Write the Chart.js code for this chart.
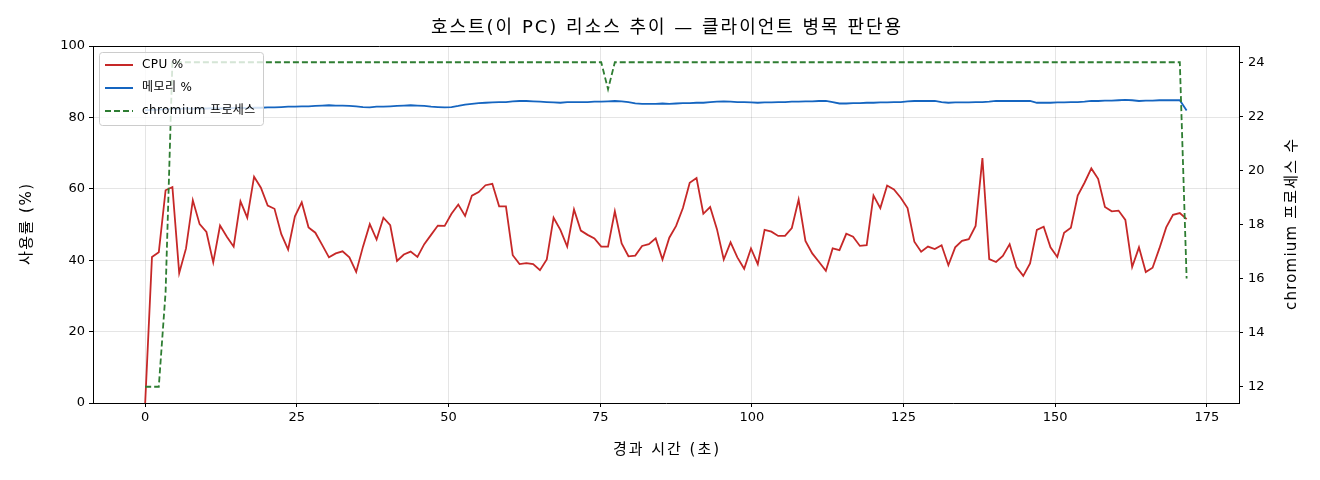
<!DOCTYPE html>
<html>
<head>
<meta charset="utf-8">
<script src="https://cdn.jsdelivr.net/npm/chart.js@4.4.1/dist/chart.umd.min.js"></script>
<style>
    html, body { margin: 0; padding: 0; background: #fff; }
    #wrap { width: 1320px; height: 480px; }
</style>
</head>
<body>
<div id="wrap"><canvas id="hostChart" width="1320" height="480"></canvas></div>
<script>

// =========================
// DATA
// =========================

// one sample roughly every 1.12 s
const sampleSec = 1.122;

const cpuPct = [
    0, 40.9, 42.2, 59.6, 60.5, 36.4, 43.3, 56.8, 50.1, 47.9,
    39.4, 49.7, 46.6, 43.8, 56.5, 51.9, 63.4, 60.3, 55.3, 54.4,
    47.3, 43.0, 52.3, 56.2, 49.2, 47.7, 44.3, 40.8, 41.9, 42.5,
    40.8, 36.7, 43.8, 50.1, 45.8, 51.9, 49.8, 39.8, 41.6, 42.4,
    40.9, 44.5, 47.1, 49.7, 49.6, 53.0, 55.6, 52.4, 58.1, 59.1,
    61.0, 61.4, 55.1, 55.1, 41.4, 38.9, 39.2, 38.9, 37.2, 40.2,
    51.9, 48.5, 43.8, 54.2, 48.3, 47.1, 46.1, 43.8, 43.8, 53.7,
    44.7, 41.1, 41.3, 44.0, 44.5, 46.1, 40.2, 46.3, 49.6, 54.6,
    61.7, 63.0, 53.0, 54.9, 48.7, 40.2, 45.0, 40.8, 37.6, 43.3,
    38.9, 48.5, 48.0, 46.8, 46.8, 49.0, 57.0, 45.4, 41.9, 39.5,
    37.0, 43.3, 42.8, 47.4, 46.6, 44.0, 44.2, 58.1, 54.6, 60.9,
    59.8, 57.5, 54.6, 45.2, 42.4, 43.8, 43.1, 44.2, 38.6, 43.6,
    45.4, 45.9, 49.6, 68.6, 40.3, 39.5, 41.2, 44.5, 38.1, 35.6,
    39.1, 48.5, 49.4, 43.6, 40.9, 47.7, 49.1, 58.1, 61.7, 65.7,
    62.8, 54.9, 53.7, 53.9, 51.3, 38.1, 43.6, 36.7, 37.9, 43.3,
    49.2, 52.7, 53.2, 51.5
];

const memPct = [
    82.0, 82.1, 82.2, 82.3, 82.4, 82.4, 82.5, 82.4, 82.5, 82.5,
    82.6, 82.5, 82.6, 82.6, 82.7, 82.6, 82.7, 82.7, 82.8, 82.8,
    82.9, 83.0, 83.0, 83.1, 83.1, 83.2, 83.3, 83.4, 83.3, 83.3,
    83.2, 83.1, 82.9, 82.8, 83.0, 83.0, 83.1, 83.2, 83.3, 83.4,
    83.3, 83.2, 83.0, 82.9, 82.8, 82.9, 83.2, 83.6, 83.8, 84.0,
    84.1, 84.2, 84.3, 84.3, 84.5, 84.6, 84.6, 84.5, 84.4, 84.3,
    84.2, 84.1, 84.3, 84.3, 84.3, 84.3, 84.4, 84.4, 84.5, 84.6,
    84.5, 84.3, 83.9, 83.8, 83.8, 83.8, 83.9, 83.8, 83.9, 84.0,
    84.0, 84.1, 84.1, 84.3, 84.4, 84.5, 84.4, 84.3, 84.3, 84.2,
    84.1, 84.2, 84.2, 84.3, 84.3, 84.4, 84.4, 84.5, 84.5, 84.6,
    84.6, 84.3, 83.9, 83.9, 84.0, 84.0, 84.1, 84.1, 84.2, 84.2,
    84.3, 84.3, 84.5, 84.6, 84.6, 84.6, 84.6, 84.3, 84.1, 84.2,
    84.2, 84.2, 84.3, 84.3, 84.4, 84.6, 84.6, 84.6, 84.6, 84.6,
    84.6, 84.1, 84.1, 84.1, 84.2, 84.2, 84.3, 84.3, 84.4, 84.6,
    84.6, 84.7, 84.7, 84.8, 84.9, 84.8, 84.6, 84.7, 84.7, 84.8,
    84.8, 84.8, 84.8, 81.9
];

const chromiumProcs = [
    12, 12, 12, 15.5, 24, 24, 24, 24, 24, 24,
    24, 24, 24, 24, 24, 24, 24, 24, 24, 24,
    24, 24, 24, 24, 24, 24, 24, 24, 24, 24,
    24, 24, 24, 24, 24, 24, 24, 24, 24, 24,
    24, 24, 24, 24, 24, 24, 24, 24, 24, 24,
    24, 24, 24, 24, 24, 24, 24, 24, 24, 24,
    24, 24, 24, 24, 24, 24, 24, 24, 23, 24,
    24, 24, 24, 24, 24, 24, 24, 24, 24, 24,
    24, 24, 24, 24, 24, 24, 24, 24, 24, 24,
    24, 24, 24, 24, 24, 24, 24, 24, 24, 24,
    24, 24, 24, 24, 24, 24, 24, 24, 24, 24,
    24, 24, 24, 24, 24, 24, 24, 24, 24, 24,
    24, 24, 24, 24, 24, 24, 24, 24, 24, 24,
    24, 24, 24, 24, 24, 24, 24, 24, 24, 24,
    24, 24, 24, 24, 24, 24, 24, 24, 24, 24,
    24, 24, 24, 16
];

const elapsed = cpuPct.map((_, i) => i * sampleSec);

const xTicks = [0, 25, 50, 75, 100, 125, 150, 175];
const yTicks = [0, 20, 40, 60, 80, 100];
const y2Ticks = [12, 14, 16, 18, 20, 22, 24];

const seriesLabels = ["CPU %", "메모리 %", "chromium 프로세스"];

const chartTitle = "호스트(이 PC) 리소스 추이 — 클라이언트 병목 판단용";
const xTitle = "경과 시간 (초)";
const yTitle = "사용률 (%)";
const y2Title = "chromium 프로세스 수";

// =========================
// HELPERS
// =========================

const FONT = "'DejaVu Sans', 'Noto Sans CJK KR', sans-serif";
const GRID = "rgba(0,0,0,0.1)";

const toPoints = (vals) => vals.map((v, i) => ({ x: elapsed[i], y: v }));

const fixTicks = (list) => (scale) => {
    scale.ticks = list.map(v => ({ value: v }));
};

// text with a little extra tracking, centred on (x, y)
function spacedText(ctx, text, x, y, size, spacing, rot) {
    ctx.save();
    ctx.font = size + "px " + FONT;
    ctx.letterSpacing = spacing + "px";
    ctx.textAlign = "center";
    ctx.textBaseline = "middle";
    ctx.fillStyle = "#000";
    ctx.translate(x, y);
    if (rot) ctx.rotate(rot);
    ctx.fillText(text, spacing / 2, 0);
    ctx.restore();
}

// matplotlib style title, legend box, axis titles and top spine
const mplExtras = {
    id: "mplExtras",
    afterDraw(chart) {
        const ctx = chart.ctx;
        const a = chart.chartArea;
        const midX = (a.left + a.right) / 2;
        const midY = (a.top + a.bottom) / 2;

        ctx.save();

        // top spine
        ctx.strokeStyle = "#000";
        ctx.lineWidth = 1;
        ctx.beginPath();
        ctx.moveTo(a.left, a.top + 0.5);
        ctx.lineTo(a.right, a.top + 0.5);
        ctx.stroke();

        // titles
        spacedText(ctx, chartTitle, midX, 28, 18, 2, 0);
        spacedText(ctx, xTitle, midX, 450, 15, 2, 0);
        spacedText(ctx, yTitle, 27, midY, 15, 1.5, -Math.PI / 2);
        spacedText(ctx, y2Title, 1292, midY, 15, 1.2, -Math.PI / 2);

        // legend
        const bx = a.left + 6, by = a.top + 6, bw = 164, bh = 73;
        ctx.fillStyle = "rgba(255,255,255,0.8)";
        ctx.strokeStyle = "#cccccc";
        ctx.beginPath();
        ctx.roundRect(bx + 0.5, by + 0.5, bw, bh, 3);
        ctx.fill();
        ctx.stroke();

        ctx.font = "12px " + FONT;
        ctx.letterSpacing = "0.4px";
        ctx.textAlign = "left";
        ctx.textBaseline = "middle";
        chart.data.datasets.forEach((ds, i) => {
            const ry = by + 13 + i * 23;
            ctx.strokeStyle = ds.borderColor;
            ctx.lineWidth = 2;
            ctx.setLineDash(ds.borderDash || []);
            ctx.beginPath();
            ctx.moveTo(bx + 6, ry);
            ctx.lineTo(bx + 34, ry);
            ctx.stroke();
            ctx.setLineDash([]);
            ctx.fillStyle = "#000";
            ctx.fillText(ds.label, bx + 43, ry);
        });

        ctx.restore();
    }
};

// =========================
// CHART
// =========================

const ctx = document.getElementById("hostChart").getContext("2d");

new Chart(ctx, {
    type: "line",
    data: {
        datasets: [
            {
                label: seriesLabels[0],
                data: toPoints(cpuPct),
                borderColor: "#c62828",
                borderWidth: 1.8,
                yAxisID: "y",
                order: 2
            },
            {
                label: seriesLabels[1],
                data: toPoints(memPct),
                borderColor: "#1565c0",
                borderWidth: 1.8,
                yAxisID: "y",
                order: 1
            },
            {
                label: seriesLabels[2],
                data: toPoints(chromiumProcs),
                borderColor: "#2e7d32",
                borderWidth: 1.8,
                borderDash: [6, 3],
                yAxisID: "y2",
                order: 0
            }
        ]
    },
    options: {
        responsive: false,
        animation: false,
        devicePixelRatio: 1,
        layout: { padding: { top: 46, left: 0, right: 0, bottom: 0 } },
        elements: {
            point: { radius: 0 },
            line: { tension: 0, fill: false }
        },
        scales: {
            x: {
                type: "linear",
                min: -8.6,
                max: 180.3,
                afterBuildTicks: fixTicks(xTicks),
                afterFit: (s) => { s.height = 77; },
                ticks: {
                    color: "#000",
                    font: { family: FONT, size: 13 },
                    padding: 3,
                    maxRotation: 0
                },
                grid: {
                    color: GRID,
                    tickColor: "#000",
                    tickLength: 4
                },
                border: { display: true, color: "#000", width: 1 }
            },
            y: {
                position: "left",
                min: 0,
                max: 100,
                afterBuildTicks: fixTicks(yTicks),
                afterFit: (s) => { s.width = 93; },
                ticks: {
                    color: "#000",
                    font: { family: FONT, size: 13 },
                    padding: 4
                },
                grid: {
                    color: GRID,
                    tickColor: "#000",
                    tickLength: 4
                },
                border: { display: true, color: "#000", width: 1 }
            },
            y2: {
                position: "right",
                min: 11.4,
                max: 24.6,
                afterBuildTicks: fixTicks(y2Ticks),
                afterFit: (s) => { s.width = 81; },
                ticks: {
                    color: "#000",
                    font: { family: FONT, size: 13 },
                    padding: 5
                },
                grid: {
                    drawOnChartArea: false,
                    tickColor: "#000",
                    tickLength: 4
                },
                border: { display: true, color: "#000", width: 1 }
            }
        },
        plugins: {
            legend: { display: false },
            tooltip: { enabled: false },
            title: { display: false }
        }
    },
    plugins: [mplExtras]
});

</script>
</body>
</html>
